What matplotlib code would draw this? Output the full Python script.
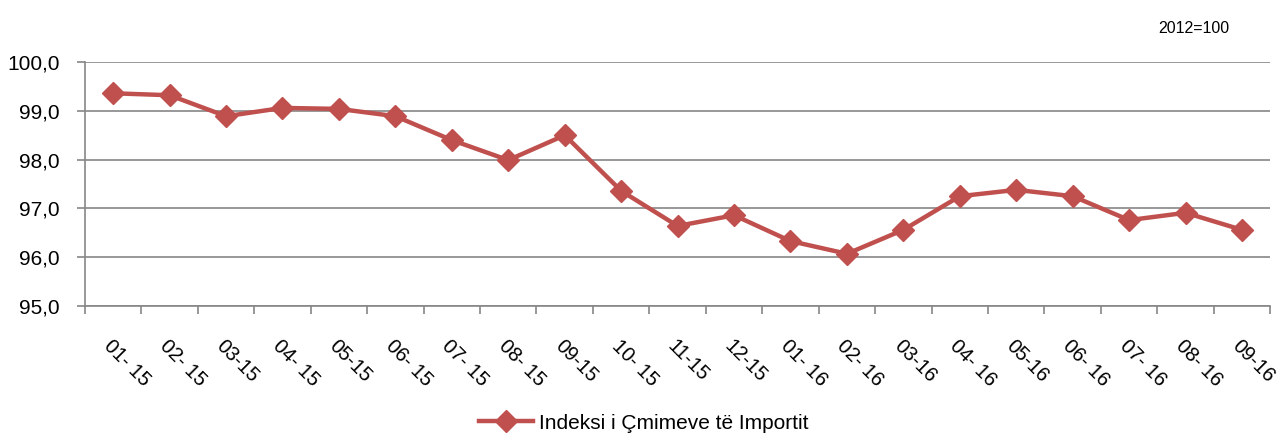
import numpy as np
import matplotlib.pyplot as plt

plt.rcParams['font.family'] = ['Liberation Sans', 'DejaVu Sans']

months = ['01- 15', '02- 15', '03-15', '04- 15', '05-15', '06- 15', '07- 15',
          '08- 15', '09-15', '10- 15', '11-15', '12-15', '01- 16', '02- 16',
          '03-16', '04- 16', '05-16', '06- 16', '07- 16', '08- 16', '09-16']
index_values = [99.36, 99.32, 98.89, 99.06, 99.04, 98.89, 98.40, 97.99, 98.50,
                97.36, 96.64, 96.86, 96.33, 96.07, 96.56, 97.25, 97.38, 97.25,
                96.76, 96.91, 96.56]
series_name = 'Indeksi i Çmimeve të Importit'

red = '#C0504D'
grey = '#868686'

fig = plt.figure(figsize=(12.87, 4.34), dpi=100)
ax = fig.add_axes([0.066, 0.295, 0.921, 0.562])

x = np.arange(len(months))
ax.plot(x, index_values, color=red, lw=3.2, marker='D', markersize=11,
        markeredgecolor=red, label=series_name)

ax.set_xlim(-0.5, len(months) - 0.5)
ax.set_ylim(95, 100)
ax.set_yticks(np.arange(95, 100.1, 1))
ax.set_yticklabels([f'{v:.1f}'.replace('.', ',') for v in np.arange(95, 100.1, 1)],
                   fontsize=15)
ax.yaxis.grid(True, color=grey, lw=1.2)
ax.set_axisbelow(True)

# ticks on category boundaries, labels at category centres
ax.set_xticks(np.arange(-0.5, len(months)))
ax.set_xticklabels([])
ax.set_xticks(x, minor=True)
ax.set_xticklabels(months, minor=True, rotation=-45, ha='left', va='top',
                   rotation_mode='anchor', fontsize=14.5)
ax.tick_params(axis='x', which='minor', length=0, pad=22)
ax.tick_params(axis='x', which='major', length=6, color=grey, width=1.2)
ax.tick_params(axis='y', length=6, color=grey, width=1.2, pad=12)

for s in ['top', 'right']:
    ax.spines[s].set_visible(False)
for s in ['left', 'bottom']:
    ax.spines[s].set_color(grey)
    ax.spines[s].set_linewidth(1.2)

fig.legend(loc='lower center', bbox_to_anchor=(0.5, -0.04), frameon=False,
           fontsize=15, handlelength=2.6, handletextpad=0.3)

fig.text(0.955, 0.935, '2012=100', fontsize=11.5, ha='right', va='center')

fig.savefig('out.png', dpi=100)
